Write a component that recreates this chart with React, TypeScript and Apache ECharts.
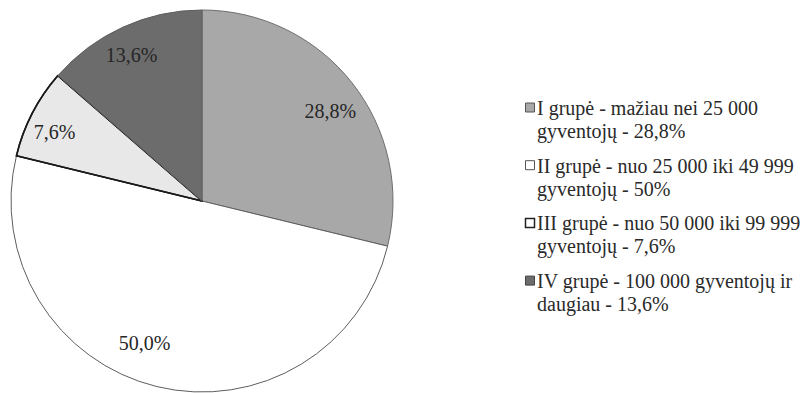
import React, { useEffect, useRef } from "react";
import * as echarts from "echarts";

const categories = [
  "I grupė - mažiau nei 25 000\ngyventojų - 28,8%",
  "II grupė - nuo 25 000 iki 49 999\ngyventojų - 50%",
  "III grupė - nuo 50 000 iki 99 999\ngyventojų - 7,6%",
  "IV grupė - 100 000 gyventojų ir\ndaugiau - 13,6%",
];
const values = [28.8, 50.0, 7.6, 13.6];
const sliceLabels = ["28,8%", "50,0%", "7,6%", "13,6%"];
const sliceColors = ["#a8a8a8", "#ffffff", "#e8e8e8", "#6c6c6c"];
const sliceBorders = ["#6e6e6e", "#5e5e5e", "#1a1a1a", "#5e5e5e"];
const sliceBorderWidths = [1, 1, 1.6, 1];
const legendIconFill = ["#a8a8a8", "#ffffff", "#ffffff", "#6c6c6c"];
const legendIconStroke = ["#555555", "#555555", "#222222", "#444444"];
const labelNudge: [number, number][] = [
  [4, 8],
  [-20, -12],
  [-7, 4],
  [-5, -2],
];

const FAMILY = "'Times New Roman', 'Liberation Serif', 'DejaVu Serif', serif";

export default function App() {
  const ref = useRef<HTMLDivElement>(null);
  useEffect(() => {
    if (!ref.current) return;
    const chart = echarts.init(ref.current, undefined, { renderer: "svg" });
    const center = [202, 201];
    const R = 191;
    const legendTop = 96.5;
    const legendStep = 57.7;
    const graphics: any[] = [];
    categories.forEach((name, i) => {
      const y = legendTop + i * legendStep;
      graphics.push({
        type: "rect",
        shape: { x: 525.5, y: y + 6.5, width: 9, height: 9 },
        style: {
          fill: legendIconFill[i],
          stroke: legendIconStroke[i],
          lineWidth: i === 2 ? 1.5 : 1,
        },
      });
      graphics.push({
        type: "text",
        x: 537,
        y: y,
        style: {
          text: name,
          fontFamily: FAMILY,
          fontSize: 20,
          fill: "#2a2a2a",
          lineHeight: 23,
          verticalAlign: "top",
          align: "left",
        },
      });
    });
    chart.setOption({
      animation: false,
      backgroundColor: "#ffffff",
      textStyle: { fontFamily: FAMILY },
      graphic: graphics,
      series: [
        {
          type: "pie",
          center,
          radius: [0, R],
          startAngle: 90,
          clockwise: true,
          label: { show: false },
          labelLine: { show: false },
          emphasis: { disabled: true },
          data: values.map((v, i) => ({
            value: v,
            name: categories[i],
            itemStyle: {
              color: sliceColors[i],
              borderColor: sliceBorders[i],
              borderWidth: sliceBorderWidths[i],
              decal:
                i === 2
                  ? {
                      symbol: "circle",
                      symbolSize: 0.5,
                      color: "rgba(150,150,150,0.45)",
                      dashArrayX: [1, 2],
                      dashArrayY: [1, 2],
                      rotation: 0.6,
                    }
                  : undefined,
            },
          })),
          z: 1,
        },
        {
          type: "pie",
          center,
          radius: [119, R],
          startAngle: 90,
          clockwise: true,
          silent: true,
          itemStyle: { color: "rgba(0,0,0,0)", borderWidth: 0 },
          labelLine: { show: false },
          emphasis: { disabled: true },
          label: {
            show: true,
            position: "inside",
            formatter: (p: any) => sliceLabels[p.dataIndex],
            fontFamily: FAMILY,
            fontSize: 20,
            color: "#262626",
          },
          labelLayout: (p: any) => ({
            dx: labelNudge[p.dataIndex][0],
            dy: labelNudge[p.dataIndex][1],
          }),
          data: values.map((v, i) => ({ value: v, name: categories[i] })),
          z: 2,
        },
      ],
    });
    return () => chart.dispose();
  }, []);
  return (
    <div
      ref={ref}
      style={{ position: "fixed", left: 0, top: 0, width: 802, height: 393 }}
    />
  );
}
